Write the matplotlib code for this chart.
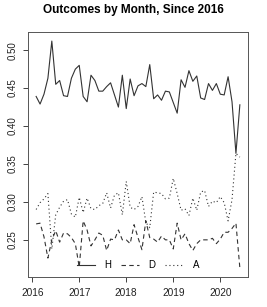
import matplotlib
matplotlib.use("Agg")
import matplotlib.pyplot as plt
import numpy as np

plt.rcParams['font.family'] = ['Liberation Sans', 'DejaVu Sans']

# monthly values, Feb 2016 .. Jun 2020
H = [0.439, 0.429, 0.442, 0.463, 0.512, 0.455, 0.460, 0.440, 0.439, 0.463,
     0.475, 0.480, 0.439, 0.432, 0.467, 0.460, 0.446, 0.446, 0.452, 0.457,
     0.441, 0.425, 0.467, 0.423, 0.462, 0.440, 0.453, 0.456, 0.452, 0.481,
     0.436, 0.441, 0.434, 0.446, 0.445, 0.431, 0.417, 0.461, 0.451, 0.473,
     0.459, 0.466, 0.437, 0.435, 0.456, 0.447, 0.456, 0.442, 0.441, 0.465,
     0.432, 0.364, 0.428]
D = [0.271, 0.272, 0.254, 0.226, 0.250, 0.262, 0.247, 0.259, 0.258, 0.253,
     0.245, 0.214, 0.275, 0.263, 0.242, 0.250, 0.259, 0.256, 0.236, 0.251,
     0.250, 0.263, 0.250, 0.250, 0.245, 0.270, 0.253, 0.237, 0.275, 0.253,
     0.251, 0.247, 0.255, 0.250, 0.250, 0.238, 0.272, 0.250, 0.258, 0.245,
     0.236, 0.245, 0.250, 0.250, 0.250, 0.252, 0.245, 0.251, 0.260, 0.260,
     0.265, 0.272, 0.213]
A = [0.290, 0.299, 0.304, 0.311, 0.238, 0.283, 0.293, 0.301, 0.303, 0.284,
     0.280, 0.306, 0.286, 0.305, 0.291, 0.290, 0.295, 0.298, 0.312, 0.292,
     0.309, 0.312, 0.283, 0.327, 0.293, 0.290, 0.294, 0.307, 0.273, 0.266,
     0.313, 0.312, 0.311, 0.304, 0.305, 0.331, 0.311, 0.289, 0.291, 0.282,
     0.305, 0.289, 0.313, 0.315, 0.294, 0.301, 0.299, 0.307, 0.299, 0.275,
     0.303, 0.364, 0.359]
start_year = 2016
start_month = 2
x_ticks = [2016, 2017, 2018, 2019, 2020]
y_ticks = [0.25, 0.30, 0.35, 0.40, 0.45, 0.50]
series_names = ['H', 'D', 'A']

x = [start_year + (start_month - 1 + i) / 12 for i in range(len(H))]

fig = plt.figure(figsize=(2.67, 3.07), dpi=100)
ax = fig.add_axes([28/267, 1-277/307, 220/267, 245/307])

col = '#333333'
lw = 0.8
ax.plot(x, H, color=col, lw=lw, ls='-', label=series_names[0])
ax.plot(x, D, color=col, lw=lw, ls=(0, (4, 3)), label=series_names[1])
ax.plot(x, A, color=col, lw=lw, ls=(0, (1, 2.5)), label=series_names[2])
ax.margins(x=0.04, y=0.04)

ax.set_xticks(x_ticks)
ax.set_xticklabels([str(v) for v in x_ticks], fontsize=7.3)
ax.set_yticks(y_ticks)
ax.set_yticklabels(['%.2f' % v for v in y_ticks], fontsize=7.0, rotation=90, va='center')
ax.tick_params(axis='both', direction='out', length=3.6, width=0.6, colors='#222222')
ax.tick_params(axis='x', pad=4.5)
ax.tick_params(axis='y', pad=4.0)
for s in ax.spines.values():
    s.set_linewidth(0.7)
    s.set_color('#555555')

ax.legend(ncol=3, loc='center', bbox_to_anchor=(0.5, 12/245), frameon=False,
          fontsize=7, handlelength=1.85, handletextpad=1.0, columnspacing=0.95,
          borderaxespad=0)

fig.text(0.5, 1 - 10/307, 'Outcomes by Month, Since 2016', ha='center', va='center',
         fontsize=8.5, fontweight='bold')

fig.savefig('out.png', dpi=100)
